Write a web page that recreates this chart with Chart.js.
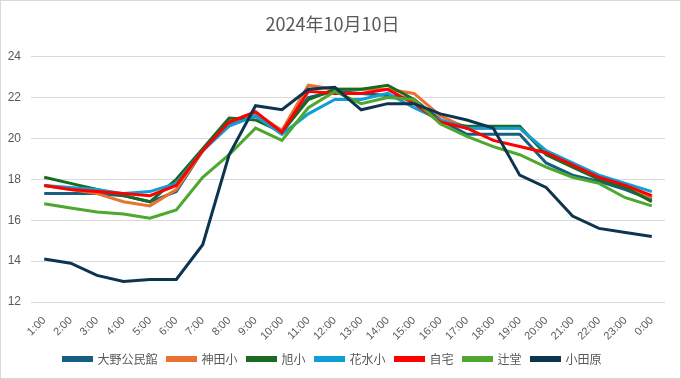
<!DOCTYPE html>
<html><head><meta charset="utf-8">
<script src="https://cdn.jsdelivr.net/npm/chart.js@4/dist/chart.umd.min.js"></script>
<style>html,body{margin:0;padding:0;background:#fff}#w{width:681px;height:379px;position:relative}</style>
</head><body><div id="w"><canvas id="c"></canvas></div>
<script>
const title = '2024年10月10日';
const hours = ['1:00','2:00','3:00','4:00','5:00','6:00','7:00','8:00','9:00','10:00','11:00','12:00','13:00','14:00','15:00','16:00','17:00','18:00','19:00','20:00','21:00','22:00','23:00','0:00'];
const seriesNames = ['大野公民館','神田小','旭小','花水小','自宅','辻堂','小田原'];
const oono     = [17.3,17.3,17.3,17.2,16.9,17.4,19.4,20.7,21.1,20.3,22.0,22.3,22.2,22.1,21.9,20.9,20.2,20.2,20.2,18.8,18.2,17.9,17.5,17.0];
const kanda    = [17.7,17.5,17.3,16.9,16.7,17.5,19.4,20.8,21.2,20.4,22.6,22.4,22.4,22.4,22.2,21.1,20.5,20.5,20.5,19.3,18.7,18.1,17.7,17.1];
const asahi    = [18.1,17.8,17.5,17.2,16.9,18.0,19.5,21.0,20.9,20.3,21.9,22.4,22.4,22.6,21.9,20.8,20.6,20.6,20.6,19.2,18.6,18.0,17.6,16.9];
const hanamizu = [17.7,17.6,17.5,17.3,17.4,17.8,19.4,20.6,21.1,20.2,21.2,21.9,21.9,22.2,21.5,20.9,20.5,20.5,20.5,19.4,18.8,18.2,17.8,17.4];
const jitaku   = [17.7,17.5,17.4,17.3,17.2,17.7,19.4,20.8,21.3,20.3,22.3,22.2,22.2,22.4,21.7,20.8,20.5,19.9,19.6,19.3,18.7,18.1,17.7,17.2];
const tsujido  = [16.8,16.6,16.4,16.3,16.1,16.5,18.1,19.2,20.5,19.9,21.5,22.3,21.7,22.0,21.9,20.7,20.1,19.6,19.2,18.6,18.1,17.8,17.1,16.7];
const odawara  = [14.1,13.9,13.3,13.0,13.1,13.1,14.8,19.2,21.6,21.4,22.4,22.5,21.4,21.7,21.7,21.2,20.9,20.5,18.2,17.6,16.2,15.6,15.4,15.2];
const yTicks = [12,14,16,18,20,22,24];

const seriesData = [oono,kanda,asahi,hanamizu,jitaku,tsujido,odawara];
const colors = ['#156082','#E97132','#196B24','#0F9ED5','#FF0000','#4EA72E','#0E3550'];

const datasets = seriesNames.map((n,i)=>({
  label:n, data:seriesData[i], borderColor:colors[i], backgroundColor:colors[i],
  borderWidth:3, pointRadius:0, tension:0, fill:false, order:seriesNames.length-1-i
}));

const borderPlugin = {
  id:'outerBorder',
  afterDraw(chart){
    const ctx=chart.ctx; ctx.save(); ctx.strokeStyle='#d9d9d9'; ctx.lineWidth=1;
    ctx.strokeRect(0.5,0.5,chart.width-1,chart.height-1); ctx.restore();
  }
};

const txt = '#595959';
const fam = '"Liberation Sans","Noto Sans CJK JP",sans-serif';
const famJ = '"Noto Sans CJK JP","Liberation Sans",sans-serif';

new Chart(document.getElementById('c'), {
  type:'line',
  data:{labels:hours, datasets},
  options:{
    responsive:true, maintainAspectRatio:false, animation:false,
    layout:{padding:{left:0,right:16,top:0,bottom:4}},
    plugins:{
      title:{display:true,text:title,color:txt,font:{family:famJ,size:18,weight:'normal'},padding:{top:13,bottom:22}},
      legend:{position:'bottom',labels:{color:txt,font:{family:famJ,size:12},boxWidth:28,boxHeight:3,padding:10,
        sort:(a,b)=>a.datasetIndex-b.datasetIndex}},
      tooltip:{enabled:false}
    },
    scales:{
      x:{offset:true,grid:{display:false},border:{display:false},
         ticks:{color:txt,font:{family:fam,size:11},maxRotation:45,minRotation:45,autoSkip:false,padding:4},
         afterFit(s){s.height=41;}},
      y:{min:12,max:24,
         afterBuildTicks(s){s.ticks=yTicks.map(v=>({value:v}));},
         grid:{color:'#d9d9d9',lineWidth:1,drawTicks:false},border:{display:false},
         ticks:{color:txt,font:{family:fam,size:12},padding:10},
         afterFit(s){s.width=31;}}
    }
  },
  plugins:[borderPlugin]
});
</script></body></html>
